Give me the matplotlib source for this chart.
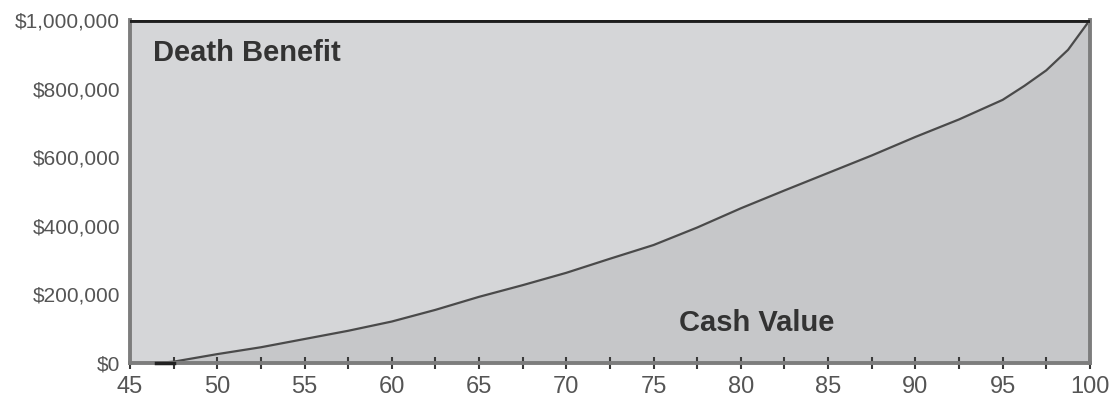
import numpy as np
import matplotlib.pyplot as plt
from matplotlib.ticker import FuncFormatter, MultipleLocator

# ages and values
ages = [46.5, 47.5, 50, 52.5, 55, 57.5, 60, 62.5, 65, 67.5, 70, 72.5,
        75, 77.5, 80, 82.5, 85, 87.5, 90, 92.5, 95, 96.25, 97.5, 98.75, 100]
cash_value = [0, 4000, 26000, 46000, 70000, 94000, 121000, 155000, 193000,
              227000, 263000, 304000, 344000, 395000, 451000, 503000,
              554000, 605000, 659000, 710000, 767000, 808000, 853000,
              913000, 1000000]
death_benefit = 1000000

x_ticks = [45, 50, 55, 60, 65, 70, 75, 80, 85, 90, 95, 100]
y_ticks = [0, 200000, 400000, 600000, 800000, 1000000]

plt.rcParams['font.family'] = ['Liberation Sans', 'DejaVu Sans']

fig = plt.figure(figsize=(11.11, 4.07), dpi=100)
ax = fig.add_axes([0.117, 0.108, 0.864, 0.843])

ages_arr = np.array(ages)
cash_arr = np.array(cash_value)

ax.set_facecolor('#d5d6d8')
ax.fill_between(ages_arr, cash_arr, death_benefit, color='#d5d6d8', lw=0)
ax.fill_between(ages_arr, 0, cash_arr, color='#c6c7c9', lw=0)
ax.plot(ages_arr, cash_arr, color='#4a4a4a', lw=1.6)
# short dark stub on the baseline where the cash value starts
ax.plot(ages[:2], [0, 0], color='#222222', lw=2.5, zorder=6, clip_on=False)
ax.axhline(death_benefit, color='#1e1e1e', lw=3.5, zorder=5)

ax.set_xlim(45, 100)
ax.set_ylim(0, 1000000)
ax.set_xticks(x_ticks)
ax.xaxis.set_minor_locator(MultipleLocator(2.5))
ax.set_yticks(y_ticks)
ax.yaxis.set_major_formatter(FuncFormatter(lambda v, p: '${:,.0f}'.format(v)))

for s in ['left', 'bottom', 'right']:
    ax.spines[s].set_color('#7d7d7d')
    ax.spines[s].set_linewidth(2.8)
ax.spines['top'].set_visible(False)

ax.tick_params(axis='x', which='both', direction='inout', length=8, width=1.5,
               color='#3a3a3a', labelsize=17, labelcolor='#555555', pad=5)
ax.tick_params(axis='y', length=0, labelsize=15, labelcolor='#555555', pad=7)

ax.text(46.3, 905000, 'Death Benefit', fontsize=21, fontweight='bold', color='#333333',
        va='center', ha='left')
ax.text(80.9, 118000, 'Cash Value', fontsize=21, fontweight='bold', color='#333333',
        va='center', ha='center')

fig.savefig('out.png', dpi=100)
